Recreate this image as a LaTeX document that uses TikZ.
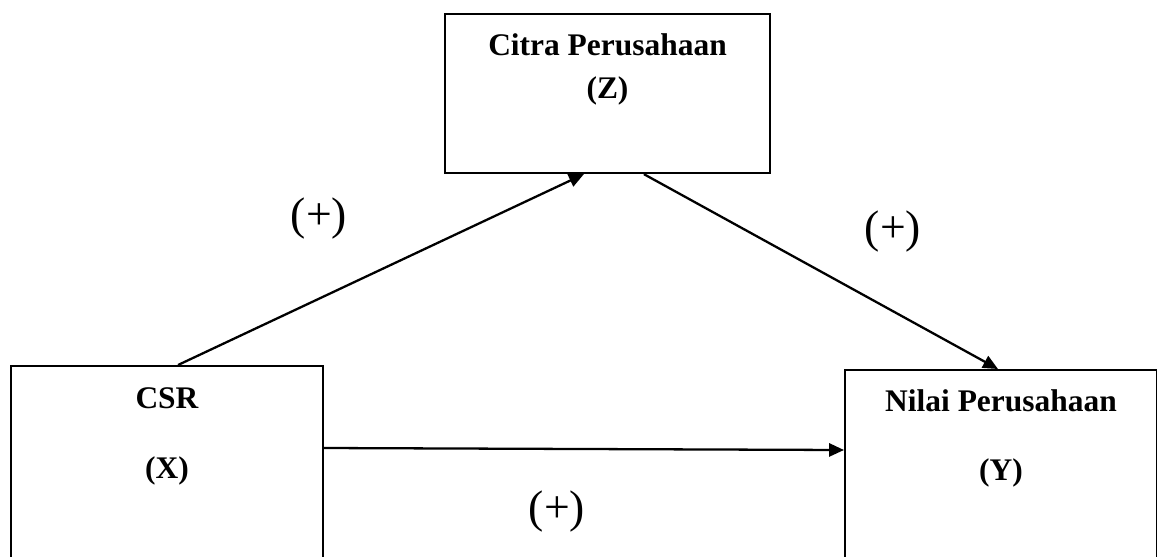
\documentclass[tikz,border=0pt]{standalone}
\usepackage{fontspec}
\setmainfont{Liberation Serif}
\usetikzlibrary{arrows.meta,calc}
\begin{document}
\begin{tikzpicture}[x=0.02cm,y=-0.02cm,
  box/.style={draw,line width=1.3pt,rectangle,inner sep=0pt},
  conn/.style={line width=1.3pt,-{Triangle[length=8.5pt,width=7.5pt]}},
  lbl/.style={anchor=base,inner sep=0pt,font=\fontsize{17.9}{20}\selectfont\bfseries},
  sign/.style={anchor=base,inner sep=0pt,font=\fontsize{26}{30}\selectfont}]
\clip (0,0) rectangle (1157,556);
\useasboundingbox (0,0) rectangle (1157,556);
% boxes
\node[box,minimum width=6.5cm,minimum height=3.18cm] (z) at (607.5,93.5) {};
\node[box,minimum width=6.24cm,minimum height=5cm,anchor=north west] (x) at (10,365) {};
\node[box,minimum width=6.24cm,minimum height=5cm,anchor=north west] (y) at (844,369) {};
% texts
\node[lbl] (zt1) at (607.5,55) {Citra Perusahaan};
\node[lbl] (zt2) at (607.5,98) {(Z)};
\node[lbl] (xt1) at (167,408) {CSR};
\node[lbl] (xt2) at (167,478) {(X)};
\node[lbl] (yt1) at (1001,411) {Nilai Perusahaan};
\node[lbl] (yt2) at (1001,480) {(Y)};
% connectors
\draw[conn] ($(x.north west)+(168,0)$) -- ($(z.south west)+(140,0)$);
\draw[conn] ($(z.south west)+(200,0)$) -- ($(y.north west)+(154,0)$);
\draw[conn] ($(x.north east)+(0,83)$) -- ($(y.north west)+(0,81)$);
% signs
\node[sign] (s1) at (319,229) {(+)};
\node[sign] (s2) at (893,242) {(+)};
\node[sign] (s3) at (557,522) {(+)};
\end{tikzpicture}
\end{document}
